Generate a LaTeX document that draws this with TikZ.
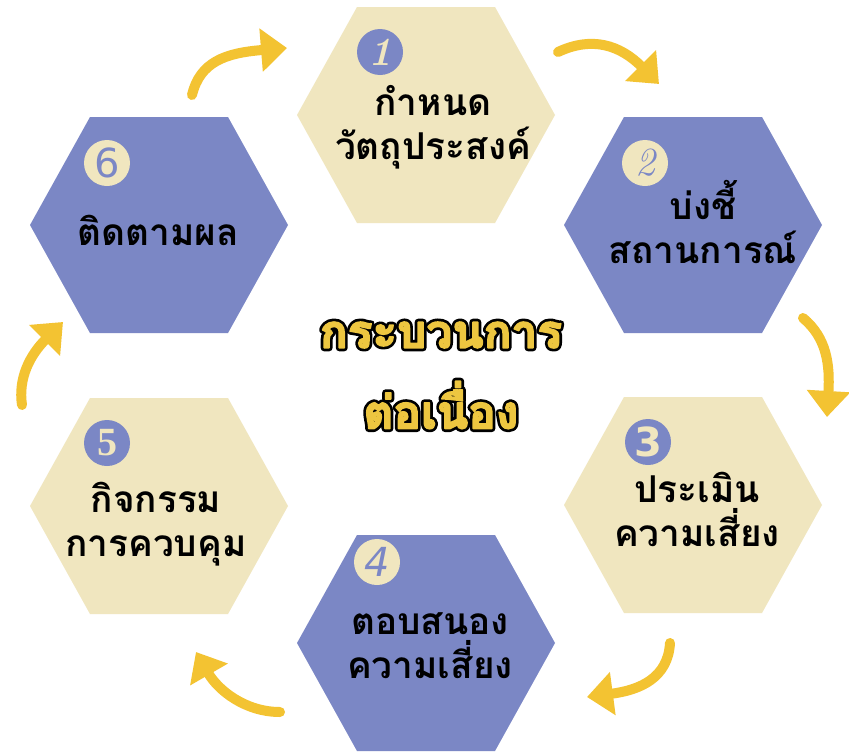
\documentclass[tikz,border=0pt]{standalone}
\usepackage{fontspec}
\usetikzlibrary{arrows.meta}
\newfontfamily\thaifont[Script=Thai]{Loma}
\newfontfamily\numsans{DejaVu Sans}
\newfontfamily\numserif{Liberation Serif}
\definecolor{hextan}{HTML}{F0E6BF}
\definecolor{hexblue}{HTML}{7B87C5}
\definecolor{arrowyellow}{HTML}{F3C332}
\definecolor{titleyellow}{HTML}{EDC640}
% text drawn filled and stroked (outline of given width and stroke colour)
\newcommand{\strk}[3]{\special{pdf:literal direct 2 Tr #1 w 1 j #2 RG}#3\special{pdf:literal direct 0 Tr}}
% outlined title text: black thick layer below, yellow layer above
\newcommand{\outl}[1]{\leavevmode\rlap{\textcolor{black}{\strk{7}{0 0 0}{#1}}}\textcolor{titleyellow}{\strk{1.6}{0.929 0.776 0.251}{#1}}}
\newcommand{\hexat}[2]{\fill[#2] (#1) +(-129,0) -- +(-69,-108) -- +(69,-108) -- +(129,0) -- +(69,108) -- +(-69,108) -- cycle;}
\tikzset{
  lbl/.style={align=center, inner sep=0pt, text=black, font=\thaifont\bfseries\fontsize{37}{44}\selectfont},
  numonblue/.style={circle, fill=hextan, text=hexblue, minimum size=46pt, inner sep=0pt, font=\fontsize{40}{40}\selectfont},
  numontan/.style={circle, fill=hexblue, text=hextan, minimum size=46pt, inner sep=0pt, font=\fontsize{40}{40}\selectfont},
  title/.style={inner sep=0pt, font=\thaifont\bfseries\fontsize{46}{56}\selectfont},
  yarrow/.style={draw=arrowyellow, line width=10pt, line cap=round, -{Triangle[width=42pt,length=26pt]}},
}
\begin{document}
\begin{tikzpicture}[x=1pt,y=-1pt]
\useasboundingbox (0,0) rectangle (849,755);
\fill[white] (0,0) rectangle (849,755);
% hexagon centres
\coordinate (h1) at (426,115);
\coordinate (h2) at (693,225);
\coordinate (h3) at (693,505);
\coordinate (h4) at (426,643);
\coordinate (h5) at (159,506);
\coordinate (h6) at (159,225);
\hexat{h1}{hextan}
\hexat{h2}{hexblue}
\hexat{h3}{hextan}
\hexat{h4}{hexblue}
\hexat{h5}{hextan}
\hexat{h6}{hexblue}
% title
\node[title] (ttl1) at (441,335) {\outl{กระบวนการ}};
\node[title] (ttl2) at (441,405) {\outl{ต่อเนื่อง}};
% numbers
\node[numontan] (n1) at (380,52) {\itshape\bfseries 1};
\node[numonblue] (n2) at (645,163) {\itshape 2};
\node[numontan] (n3) at (648,442) {\numsans\bfseries 3};
\node[numonblue] (n4) at (377,562) {\numsans\itshape 4};
\node[numontan] (n5) at (107,443) {\numserif\bfseries 5};
\node[numonblue] (n6) at (107,163) {\numsans 6};
% labels
\node[lbl] (t1) at (433,127) {กำหนด\\วัตถุประสงค์};
\node[lbl] (t2) at (703,222) {บ่งชี้\\สถานการณ์};
\node[lbl] (t3) at (697,509) {ประเมิน\\ความเสี่ยง};
\node[lbl] (t4) at (430,646) {ตอบสนอง\\ความเสี่ยง};
\node[lbl] (t5) at (156,524) {กิจกรรม\\การควบคุม};
\node[lbl] (t6) at (158,230) {ติดตามผล};
% arrows
\coordinate (a1s) at (192,95);  \coordinate (a1e) at (287,48);
\coordinate (a2s) at (558,52);  \coordinate (a2e) at (659,84);
\coordinate (a3s) at (803,318); \coordinate (a3e) at (827,417);
\coordinate (a4s) at (670,643); \coordinate (a4e) at (587,697);
\coordinate (a5s) at (280,712); \coordinate (a5e) at (196,652);
\coordinate (a6s) at (22,405);  \coordinate (a6e) at (63,322);
\draw[yarrow] (a1s) .. controls (200,62) and (225,53) .. (a1e);
\draw[yarrow] (a2s) .. controls (592,36) and (620,45) .. (a2e);
\draw[yarrow] (a3s) .. controls (827,338) and (830,365) .. (a3e);
\draw[yarrow] (a4s) .. controls (668,678) and (640,690) .. (a4e);
\draw[yarrow] (a5s) .. controls (245,712) and (218,690) .. (a5e);
\draw[yarrow] (a6s) .. controls (18,378) and (30,355) .. (a6e);
\end{tikzpicture}
\end{document}
